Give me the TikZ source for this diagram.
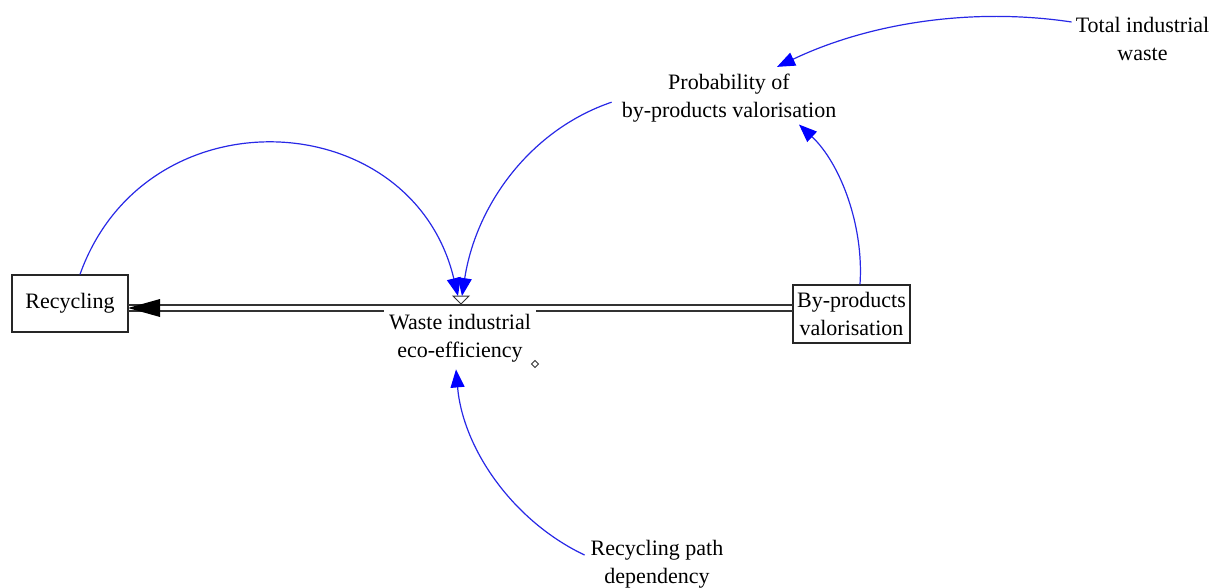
\documentclass[tikz,border=0pt]{standalone}
\usepackage{fontspec}
\setmainfont{Liberation Serif}
\usetikzlibrary{arrows.meta}
\definecolor{lnk}{RGB}{40,40,230}
\definecolor{pipec}{RGB}{50,50,50}
\begin{document}
\begin{tikzpicture}[x=1pt,y=-1pt,
  lbl/.style={font=\fontsize{22}{28}\selectfont, align=center, inner sep=2pt},
  stock/.style={lbl, draw=black!85, line width=1.3pt, inner sep=0pt},
  link/.style={draw=lnk, line width=1.2pt, -{Triangle[length=18pt,width=14pt,color=blue]}},
  pipe/.style={draw=pipec, line width=1.4pt},
  valvest/.style={draw=black!80, fill=white, line width=1pt}]
\useasboundingbox (0,0) rectangle (1210,587);

% stocks
\node[stock, minimum width=116pt, minimum height=57pt] (rec) at (70,303.5) {Recycling};
\node[stock, minimum width=117pt, minimum height=58pt] (byp) at (851.5,314) {By-products\\valorisation};

% auxiliaries
\node[lbl] (prob) at (729,98.2) {Probability of\\by-products valorisation};
\node[lbl] (tot) at (1142.5,39) {Total industrial\\waste};
\node[lbl] (rpd) at (657,564) {Recycling path\\dependency};

% flow pipe
\coordinate (pipeR) at (793,308);
\coordinate (pipeL) at (128,308);
\draw[pipe] ([yshift=3pt]pipeR) -- ([yshift=3pt]pipeL);
\draw[pipe] ([yshift=-3pt]pipeR) -- ([yshift=-3pt]pipeL);
\fill[black] (pipeL) -- ++(32,-9) -- ++(0,18) -- cycle;

% flow label
\node[lbl, fill=white, anchor=north, inner xsep=5pt, inner ysep=7pt] (wie) at (460,307) {Waste industrial\\eco-efficiency};

% valve
\coordinate (valve) at (461,296);
\draw[valvest] (453,296) -- (469,296) -- (461,304) -- cycle;
\draw[black!80, line width=0.9pt] (535,360.5) -- (538.5,364) -- (535,367.5) -- (531.5,364) -- cycle;

% links
\draw[link] ([xshift=10pt]rec.north) .. controls (146,90) and (412,104) .. ([xshift=-3pt]valve);
\draw[link] ([xshift=-8pt,yshift=-4pt]prob.west) .. controls (530,130) and (476,205) .. ([xshift=1pt]valve);
\draw[link] ([xshift=8.5pt]byp.north) .. controls (864,225) and (840,163) .. ([xshift=70pt]prob.south);
\draw[link] ([xshift=-2pt,yshift=17pt]tot.west) .. controls (972,7) and (869,23) .. ([xshift=48pt,yshift=5pt]prob.north);
\draw[link] ([xshift=-4pt,yshift=9pt]rpd.west) .. controls (513,521) and (463,449) .. ([xshift=-4pt]wie.south);
\end{tikzpicture}
\end{document}
